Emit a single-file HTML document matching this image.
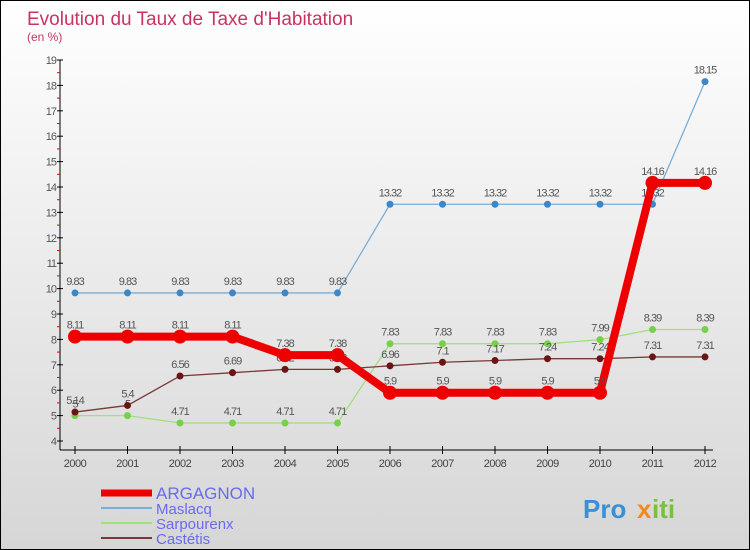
<!DOCTYPE html>
<html><head><meta charset="utf-8"><style>
body{margin:0;}
#wrap{position:relative;width:748px;height:548px;border:1px solid #000;background:linear-gradient(#fff,#d6d6d6);font-family:"Liberation Sans",sans-serif;overflow:hidden}
</style></head><body>
<div id="wrap">
<svg id="chart" width="748" height="548"></svg>
</div>
<script>
const years=["2000","2001","2002","2003","2004","2005","2006","2007","2008","2009","2010","2011","2012"];
const argagnon=[8.11,8.11,8.11,8.11,7.38,7.38,5.9,5.9,5.9,5.9,5.9,14.16,14.16];
const maslacq=[9.83,9.83,9.83,9.83,9.83,9.83,13.32,13.32,13.32,13.32,13.32,13.32,18.15];
const sarpourenx=[5,5,4.71,4.71,4.71,4.71,7.83,7.83,7.83,7.83,7.99,8.39,8.39];
const castetis=[5.14,5.4,6.56,6.69,6.82,6.82,6.96,7.1,7.17,7.24,7.24,7.31,7.31];
const yTicks=[4,5,6,7,8,9,10,11,12,13,14,15,16,17,18,19];
const NS="http://www.w3.org/2000/svg";
const svg=document.getElementById('chart');
const X=i=>74+i*52.5;
const Y=v=>440-(v-4)*25.4;
function mk(t,a,txt){const e=document.createElementNS(NS,t);for(const k in a)e.setAttribute(k,a[k]);if(txt!==undefined)e.textContent=txt;svg.appendChild(e);return e;}
let e;
e=mk('text',{x:26,y:24,'font-size':19,fill:'#c8345f'},"Evolution du Taux de Taxe d'Habitation");


e=mk('text',{x:26,y:40,'font-size':12,fill:'#c8345f'},"(en %)");


e=mk('line',{x1:59,y1:59,x2:59,y2:449,stroke:'#000','stroke-width':1});


e=mk('line',{x1:59,y1:449,x2:712,y2:449,stroke:'#000','stroke-width':1});


yTicks.forEach(v=>{
 mk('line',{x1:56,y1:Y(v),x2:62,y2:Y(v),stroke:'#000'});
 if(v<19)mk('line',{x1:56,y1:Y(v+0.5),x2:59,y2:Y(v+0.5),stroke:'#e00'});
 e=mk('text',{x:55,y:Y(v)+4,'font-size':11,fill:'#555','text-anchor':'end','letter-spacing':'-1'},v);
 
 
});
years.forEach((y,i)=>{
 mk('line',{x1:X(i),y1:445,x2:X(i),y2:453,stroke:'#000'});
 e=mk('text',{x:X(i),y:466,'font-size':11,fill:'#444','text-anchor':'middle','letter-spacing':'-0.5'},y);
 
 
});
function series(vals,color,w,r,name,dot){
 const g=document.createElementNS(NS,'g');svg.appendChild(g);
 
 
 const pl=document.createElementNS(NS,'polyline');
 pl.setAttribute('points',vals.map((v,i)=>X(i)+','+Y(v)).join(' '));
 pl.setAttribute('fill','none');pl.setAttribute('stroke',color);pl.setAttribute('stroke-width',w);
 g.appendChild(pl);
 vals.forEach((v,i)=>{
  const c=document.createElementNS(NS,'circle');
  c.setAttribute('cx',X(i));c.setAttribute('cy',Y(v));c.setAttribute('r',r);c.setAttribute('fill',dot);
  
  
  g.appendChild(c);
  const t=document.createElementNS(NS,'text');
  t.setAttribute('x',X(i));t.setAttribute('y',Y(v)-8);t.setAttribute('font-size',11);
  t.setAttribute('fill','#555');t.setAttribute('text-anchor','middle');t.setAttribute('letter-spacing','-1');
  t.textContent=v;
  
  
  g.appendChild(t);
 });
}
series(maslacq,'#7aaed8',1.3,3.5,'maslacq','#3d87c6');
series(sarpourenx,'#9ee07a',1.3,3.5,'sarpourenx','#78d048');
series(castetis,'#7a3838',1.3,3.5,'castetis','#6a1414');
series(argagnon,'#ee0000',8,7,'argagnon','#ee0000');
const legend=[["ARGAGNON","#ee0000",7,15],["Maslacq","#7aaed8",2,13],["Sarpourenx","#9ee07a",2,13],["Castétis","#7a3838",2,13]];
legend.forEach((l,i)=>{
 const y=492+i*15;
 e=mk('line',{x1:100,y1:y,x2:151,y2:y,stroke:l[1],'stroke-width':l[2]});
 
 
 e=mk('text',{x:155,y:y+6,'font-size':l[3]+2,fill:'#6a6af0'},l[0]);
 
 
});
e=mk('text',{x:582,y:517,'font-size':26,'font-weight':'bold',fill:'#3a8fd8'},"Pro");


mk('text',{x:636,y:517,'font-size':26,'font-weight':'bold',fill:'#f08a20'},"x");
mk('text',{x:651,y:517,'font-size':26,'font-weight':'bold',fill:'#7ac040'},"iti");
</script>
</body></html>
